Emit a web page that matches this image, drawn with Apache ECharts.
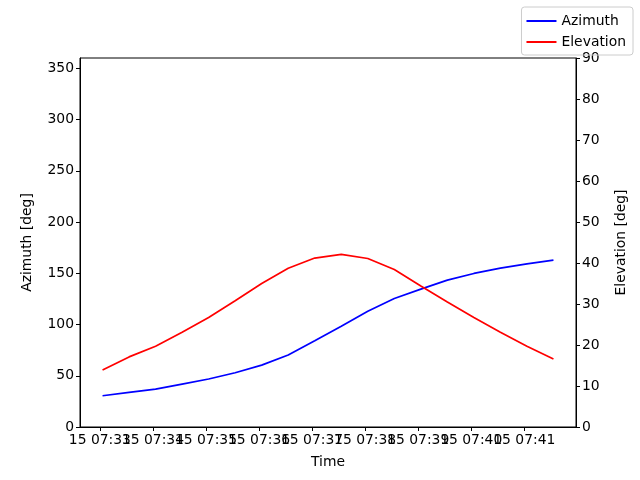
<!DOCTYPE html>
<html>
<head>
<meta charset="utf-8">
<script src="https://cdn.jsdelivr.net/npm/echarts@6/dist/echarts.min.js"></script>
<style>
  html, body { margin: 0; padding: 0; background: #fff; }
  #chart { width: 640px; height: 480px; }
</style>
</head>
<body>
<div id="chart"></div>
<script>
// pass samples, day 15, every 30 s
const times = [
  '07:33:03', '07:33:33', '07:34:03', '07:34:33', '07:35:03', '07:35:33',
  '07:36:03', '07:36:33', '07:37:03', '07:37:33', '07:38:03', '07:38:33',
  '07:39:03', '07:39:33', '07:40:03', '07:40:33', '07:41:03', '07:41:33'
]
const azimuth = [30.5, 33.8, 37.0, 41.9, 46.8, 52.9, 60.4, 70.2, 84.1, 98.4,
  113.0, 125.4, 134.5, 143.3, 149.8, 155.0, 159.2, 162.8]
const elevation = [13.9, 17.1, 19.7, 23.1, 26.7, 30.8, 35.0, 38.7, 41.2, 42.1,
  41.1, 38.4, 34.4, 30.5, 26.7, 23.1, 19.7, 16.6]
const timeTicks = ['07:33', '07:34', '07:35', '07:36', '07:37', '07:38', '07:39', '07:40', '07:41']
const azTicks = [0, 50, 100, 150, 200, 250, 300, 350]

// seconds since 07:33:00
const base = 7 * 3600 + 33 * 60
function toSec(s) {
  const p = s.split(':').map(Number)
  return p[0] * 3600 + p[1] * 60 + (p[2] || 0) - base
}
const tickSec = timeTicks.map(toSec)
const labelOf = {}
timeTicks.forEach((t, i) => { labelOf[tickSec[i]] = '15 ' + t })
// labels overlap like the original; split them over two axes so none get dropped
const evenTicks = tickSec.filter((v, i) => i % 2 === 0)
const oddTicks = tickSec.filter((v, i) => i % 2 === 1)

const font = 'DejaVu Sans'
const txt = { color: '#000', fontFamily: font, fontSize: 13.9 }
const xMin = -22.5
const xMax = 538.5

function timeAxis(labels, main) {
  return {
    type: 'value', min: xMin, max: xMax, position: 'bottom', offset: 0,
    name: main ? 'Time' : '', nameLocation: 'middle', nameGap: 28,
    nameTextStyle: txt,
    axisLine: { show: main, onZero: false, lineStyle: { color: '#000' } },
    axisTick: { show: main, length: 4, lineStyle: { color: '#000' }, customValues: tickSec },
    axisLabel: {
      ...txt, margin: 6,
      showMinLabel: true, showMaxLabel: true,
      customValues: labels,
      formatter: v => labelOf[v] || ''
    },
    splitLine: { show: false }
  }
}

const chart = echarts.init(document.getElementById('chart'))
chart.setOption({
  animation: false,
  textStyle: txt,
  grid: {
    left: 80, right: 64, top: 58, bottom: 53,
    show: true, borderColor: '#000', borderWidth: 1, backgroundColor: 'transparent'
  },
  legend: {
    orient: 'vertical',
    right: 7, top: 7,
    padding: [7, 7, 6, 5],
    itemGap: 7,
    icon: 'rect',
    itemWidth: 30, itemHeight: 2,
    borderColor: '#ccc', borderWidth: 1, borderRadius: 3,
    textStyle: txt,
    data: ['Azimuth', 'Elevation']
  },
  xAxis: [timeAxis(evenTicks, true), timeAxis(oddTicks, false)],
  yAxis: [
    {
      type: 'value', min: 0, max: 360,
      name: 'Azimuth [deg]', nameLocation: 'middle', nameGap: 46,
      nameTextStyle: txt,
      axisLine: { show: true, onZero: false, lineStyle: { color: '#000' } },
      axisTick: { show: true, length: 4, lineStyle: { color: '#000' }, customValues: azTicks },
      axisLabel: { ...txt, margin: 6, customValues: azTicks, showMinLabel: true },
      splitLine: { show: false }
    },
    {
      type: 'value', min: 0, max: 90, interval: 10, position: 'right',
      name: 'Elevation [deg]', nameLocation: 'middle', nameGap: 38,
      nameTextStyle: txt,
      axisLine: { show: true, onZero: false, lineStyle: { color: '#000' } },
      axisTick: { show: true, length: 4, lineStyle: { color: '#000' } },
      axisLabel: { ...txt, margin: 6, showMinLabel: true, showMaxLabel: true },
      splitLine: { show: false }
    }
  ],
  series: [
    {
      name: 'Azimuth', type: 'line', xAxisIndex: 0, yAxisIndex: 0,
      symbol: 'none', color: '#0000ff',
      lineStyle: { width: 1.7, color: '#0000ff' },
      data: times.map((t, i) => [toSec(t), azimuth[i]])
    },
    {
      name: 'Elevation', type: 'line', xAxisIndex: 0, yAxisIndex: 1,
      symbol: 'none', color: '#ff0000',
      lineStyle: { width: 1.7, color: '#ff0000' },
      data: times.map((t, i) => [toSec(t), elevation[i]])
    }
  ]
})
</script>
</body>
</html>
